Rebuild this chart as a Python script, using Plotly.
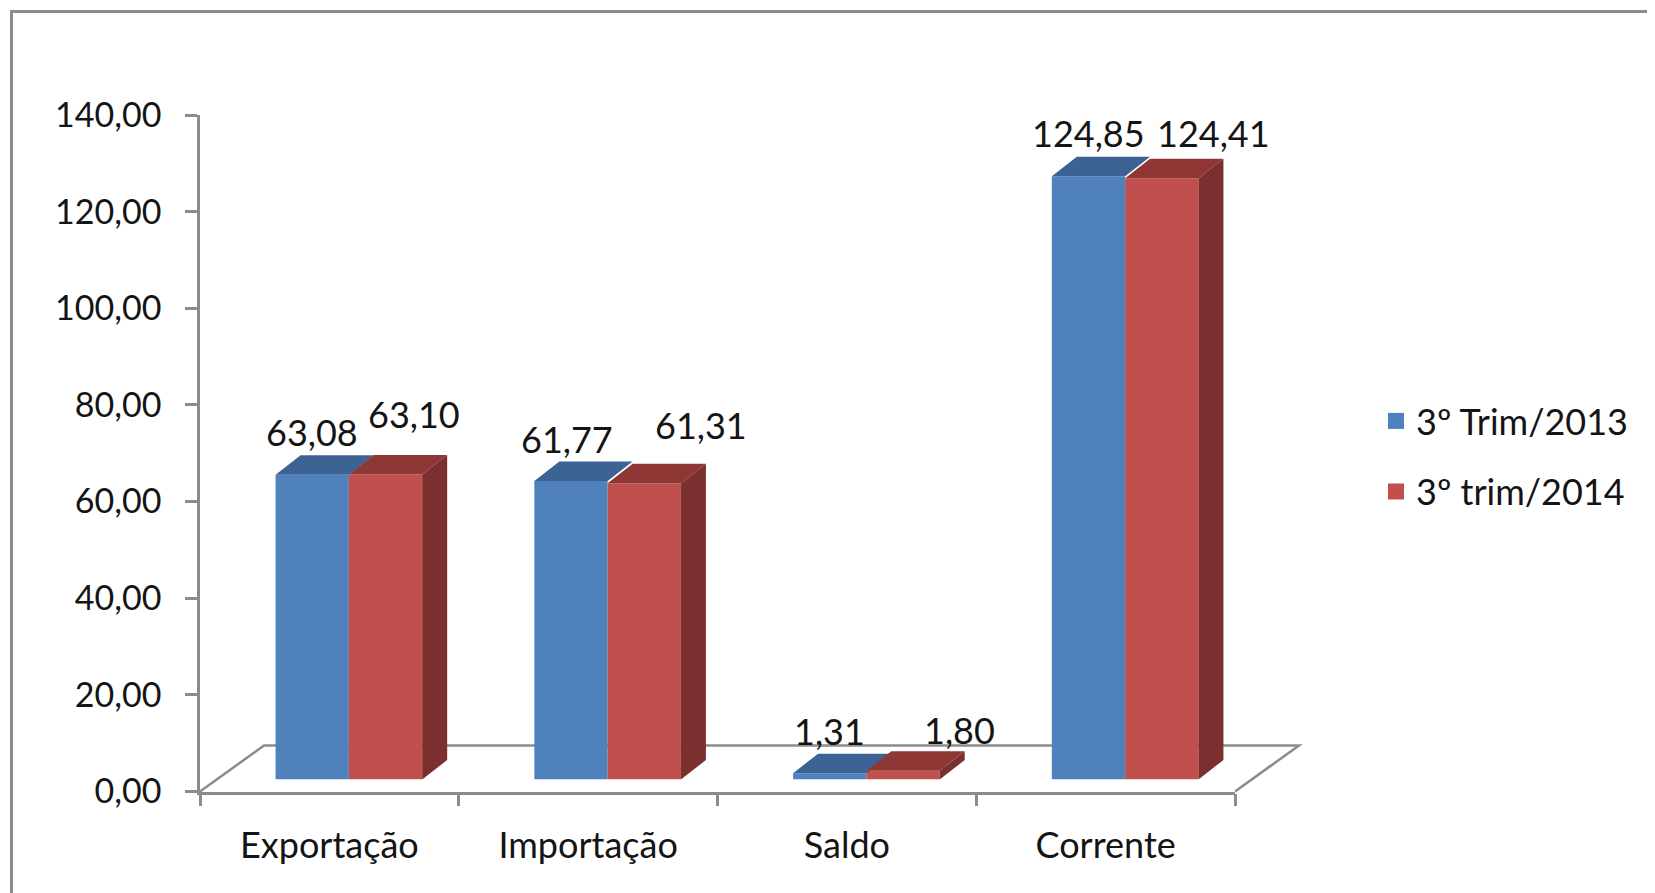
import plotly.graph_objects as go

# ---------------- data ----------------
categories = ["Exportação", "Importação", "Saldo", "Corrente"]
series_names = ["3º Trim/2013", "3º trim/2014"]
values_2013 = [63.08, 61.77, 1.31, 124.85]
values_2014 = [63.10, 61.31, 1.80, 124.41]
y_tick_values = [0, 20, 40, 60, 80, 100, 120, 140]

# ---------------- styles / geometry (pixels) ----------------
W, H = 1655, 893
PAGE_OFF = 8                    # default body margin of the html page
FONT = "Lato"
TXT = "#141414"
GRID = "#8c8c8c"
BLUE, BLUE_TOP = "#4f81bd", "#3c6393"
RED, RED_TOP, RED_SIDE = "#c0504d", "#8f3735", "#7b2f2e"

AX_L, AX_R = 200, 1235          # front floor edge
Y_0, Y_MAX = 791.5, 115         # y pixel of 0 and 140
BAR_SHIFT_X, BAR_SHIFT_Y = 19.5, 12
DEPTH_X, DEPTH_Y = 25, 19.5     # bar depth
FLOOR_X, FLOOR_Y = 64, 46       # floor depth
BAR_PX = 73.3

# label offsets in pixels (xshift, yshift) relative to top of front face
label_off_2013 = [(0, 43), (-4, 42), (0, 42), (0, 43)]
label_off_2014 = [(28, 61), (57, 58), (56, 41), (52, 45)]


def px(x):
    return (x - PAGE_OFF) / W


def py(y):
    return 1 - (y - PAGE_OFF) / H


Y_TOP = 140
cat_px = (AX_R - AX_L) / len(categories)
ppu = (Y_0 - Y_MAX) / Y_TOP
bw = BAR_PX / cat_px
dxu = DEPTH_X / cat_px
dyu = DEPTH_Y / ppu
idx = list(range(len(categories)))


def fmt(v):
    return f"{v:.2f}".replace(".", ",")


def top_faces(x0s, vals):
    xs, ys = [], []
    for x0, v in zip(x0s, vals):
        x1 = x0 + bw
        xs += [x0, x1, x1 + dxu, x0 + dxu, x0, None]
        ys += [v, v, v + dyu, v + dyu, v, None]
    return xs, ys


def side_faces(x0s, vals):
    xs, ys = [], []
    for x0, v in zip(x0s, vals):
        x1 = x0 + bw
        xs += [x1, x1, x1 + dxu, x1 + dxu, x1, None]
        ys += [0, v, v + dyu, dyu, 0, None]
    return xs, ys


fig = go.Figure()

# invisible trace to register the category axis
fig.add_trace(go.Scatter(x=categories, y=[0] * len(categories), mode="markers",
                         marker=dict(opacity=0), hoverinfo="skip", showlegend=False,
                         xaxis="x", yaxis="y"))

x0_2013 = [i - bw for i in idx]
x0_2014 = [i for i in idx]

fig.add_trace(go.Bar(x=idx, y=values_2013, width=bw, offset=-bw,
                     marker=dict(color=BLUE, line=dict(width=0)),
                     name=series_names[0], showlegend=False, xaxis="x2", yaxis="y2"))
tx, ty = top_faces(x0_2013, values_2013)
fig.add_trace(go.Scatter(x=tx, y=ty, fill="toself", fillcolor=BLUE_TOP, mode="lines",
                         line=dict(width=0, color=BLUE_TOP), hoverinfo="skip",
                         showlegend=False, xaxis="x2", yaxis="y2"))

fig.add_trace(go.Bar(x=idx, y=values_2014, width=bw, offset=0,
                     marker=dict(color=RED, line=dict(width=0)),
                     name=series_names[1], showlegend=False, xaxis="x2", yaxis="y2"))
tx, ty = top_faces(x0_2014, values_2014)
fig.add_trace(go.Scatter(x=tx, y=ty, fill="toself", fillcolor=RED_TOP, mode="lines",
                         line=dict(width=0, color=RED_TOP), hoverinfo="skip",
                         showlegend=False, xaxis="x2", yaxis="y2"))
sx, sy = side_faces(x0_2014, values_2014)
fig.add_trace(go.Scatter(x=sx, y=sy, fill="toself", fillcolor=RED_SIDE, mode="lines",
                         line=dict(width=0, color=RED_SIDE), hoverinfo="skip",
                         showlegend=False, xaxis="x2", yaxis="y2"))

# legend entries
fig.add_trace(go.Scatter(x=[None], y=[None], mode="markers", name=series_names[0],
                         marker=dict(symbol="square", size=16, color=BLUE),
                         legend="legend", xaxis="x", yaxis="y"))
fig.add_trace(go.Scatter(x=[None], y=[None], mode="markers", name=series_names[1],
                         marker=dict(symbol="square", size=16, color=RED),
                         legend="legend2", xaxis="x", yaxis="y"))

annotations = []
for vals, offs, x0s in ((values_2013, label_off_2013, x0_2013),
                        (values_2014, label_off_2014, x0_2014)):
    for x0, v, (dx, dy) in zip(x0s, vals, offs):
        annotations.append(dict(x=x0 + bw / 2, y=v, xref="x2", yref="y2",
                                text=fmt(v), showarrow=False, xanchor="center",
                                yanchor="middle", xshift=dx, yshift=dy,
                                font=dict(family=FONT, size=36, color=TXT)))

shapes = [
    dict(type="rect", xref="paper", yref="paper", x0=px(11.5), x1=1.3,
         y0=-0.3, y1=py(11.5), line=dict(color=GRID, width=3), layer="above"),
    dict(type="path", xref="paper", yref="paper", layer="below",
         path=(f"M{px(AX_L)},{py(Y_0)} L{px(AX_L + FLOOR_X)},{py(Y_0 - FLOOR_Y)} "
               f"L{px(AX_R + FLOOR_X)},{py(Y_0 - FLOOR_Y)} L{px(AX_R)},{py(Y_0)}"),
         line=dict(color=GRID, width=2.5)),
]

fig.update_layout(
    width=W, height=H, autosize=False,
    margin=dict(l=0, r=0, t=0, b=0, pad=0, autoexpand=False),
    paper_bgcolor="white", plot_bgcolor="rgba(0,0,0,0)",
    separators=",.",
    font=dict(family=FONT, color=TXT),
    barmode="overlay",
    xaxis=dict(domain=[px(AX_L), px(AX_R)], type="category",
               categoryorder="array", categoryarray=categories,
               range=[-0.5, len(categories) - 0.5],
               showline=True, linecolor=GRID, linewidth=2.5,
               ticks="outside", tickson="boundaries", ticklen=12, tickwidth=2.5,
               tickcolor=GRID, showgrid=False, zeroline=False,
               tickfont=dict(family=FONT, size=36, color=TXT),
               ticklabelstandoff=21, anchor="y", fixedrange=True, automargin=False),
    yaxis=dict(domain=[py(Y_0), py(Y_MAX)], range=[0, Y_TOP],
               tickvals=y_tick_values, tickformat=".2f",
               showline=True, linecolor=GRID, linewidth=2.5,
               ticks="outside", ticklen=12, tickwidth=2.5, tickcolor=GRID,
               showgrid=False, zeroline=False,
               tickfont=dict(family=FONT, size=34, color=TXT),
               ticklabelstandoff=17, anchor="x", fixedrange=True, automargin=False),
    xaxis2=dict(domain=[px(AX_L + BAR_SHIFT_X), px(AX_R + BAR_SHIFT_X)],
                range=[-0.5, len(categories) - 0.5], visible=False,
                anchor="y2", fixedrange=True),
    yaxis2=dict(domain=[py(Y_0 - BAR_SHIFT_Y), py(Y_MAX - BAR_SHIFT_Y)],
                range=[0, Y_TOP], visible=False, anchor="x2", fixedrange=True),
    legend=dict(x=px(1376), y=py(421), xanchor="left", yanchor="middle",
                font=dict(family=FONT, size=36, color=TXT),
                itemsizing="trace", bgcolor="rgba(0,0,0,0)"),
    legend2=dict(x=px(1376), y=py(491.5), xanchor="left", yanchor="middle",
                 font=dict(family=FONT, size=36, color=TXT),
                 itemsizing="trace", bgcolor="rgba(0,0,0,0)"),
    annotations=annotations,
    shapes=shapes,
    showlegend=True,
)

fig.write_html("out.html")
